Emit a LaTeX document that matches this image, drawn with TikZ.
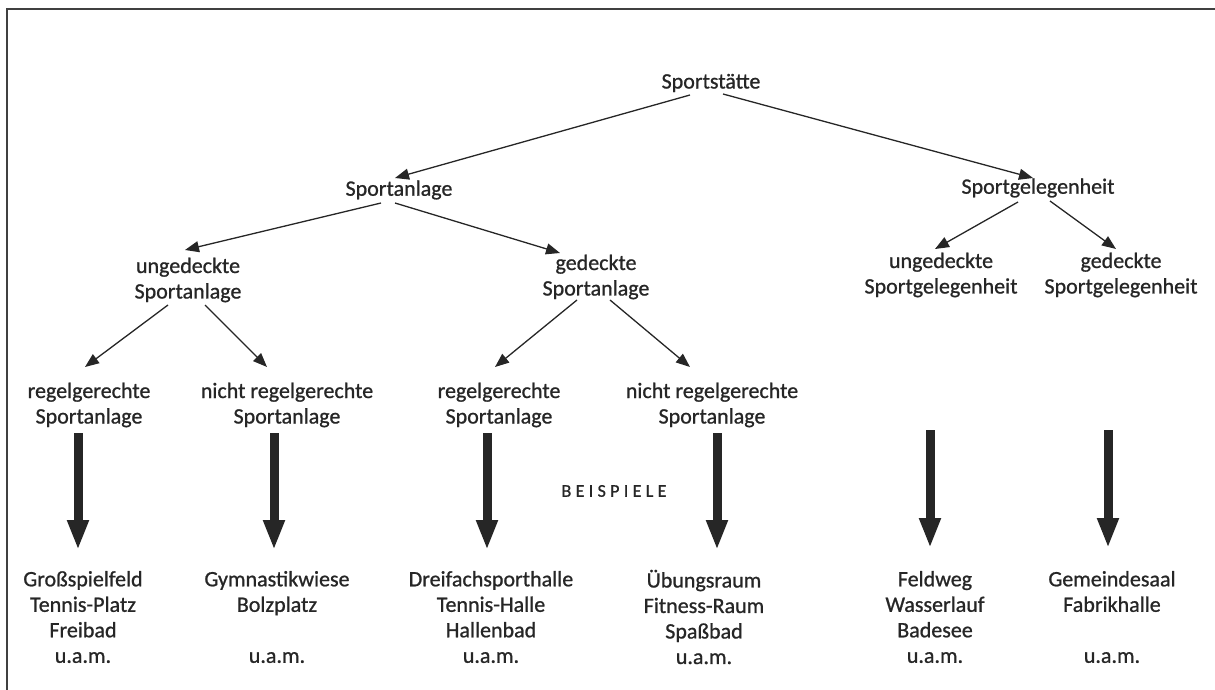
\documentclass[tikz,border=0pt]{standalone}
\usepackage{fontspec}
\setmainfont{Carlito}[FakeBold=0.9]
\newfontfamily\spacedfont[LetterSpace=24,FakeBold=0.9]{Carlito}
\usetikzlibrary{arrows.meta,calc}
\begin{document}
\begin{tikzpicture}[x=1pt,y=-1pt,
  lbl/.style={inner sep=0pt,align=center,text=black!85,
    font=\fontsize{22}{25.5}\selectfont},
  thin/.style={draw=black!85,line width=1.3pt,-{Triangle[length=14pt,width=11pt]}},
  thick/.style={draw=black!85,line width=9pt,-{Triangle[length=30pt,width=20pt]}},
  frame/.style={draw=black!75,line width=2pt}]
\useasboundingbox (0,0) rectangle (1215,690);
\coordinate (fc) at (6.5,9.5);
\coordinate (fr) at (1215,9.5);
\coordinate (fb) at (6.5,690);
\draw[frame] (fr) -- (fc) -- (fb);

\node[lbl] (st) at (711,83) {Sportstätte};
\node[lbl] (sa) at (399,190) {Sportanlage};
\node[lbl] (sg) at (1038,188) {Sportgelegenheit};
\node[lbl] (us) at (188,280) {ungedeckte\\Sportanlage};
\node[lbl] (gs) at (596,277) {gedeckte\\Sportanlage};
\node[lbl] (ug) at (941,275) {ungedeckte\\Sportgelegenheit};
\node[lbl] (gg) at (1121,275) {gedeckte\\Sportgelegenheit};
\node[lbl] (r1) at (89,405) {regelgerechte\\Sportanlage};
\node[lbl] (n1) at (287,405) {nicht regelgerechte\\Sportanlage};
\node[lbl] (r2) at (499,405) {regelgerechte\\Sportanlage};
\node[lbl] (n2) at (712,405) {nicht regelgerechte\\Sportanlage};
\node[lbl,font=\spacedfont\fontsize{18}{20}\selectfont] (bs) at (614,491) {BEISPIELE};
\node[lbl] (e1) at (83,617) {Großspielfeld\\Tennis-Platz\\Freibad\\u.a.m.};
\node[lbl] (e2) at (277,617) {Gymnastikwiese\\Bolzplatz\\\mbox{}\\u.a.m.};
\node[lbl] (e3) at (491,617) {Dreifachsporthalle\\Tennis-Halle\\Hallenbad\\u.a.m.};
\node[lbl] (e4) at (704,617) {Übungsraum\\Fitness-Raum\\Spaßbad\\u.a.m.};
\node[lbl] (e5) at (935,617) {Feldweg\\Wasserlauf\\Badesee\\u.a.m.};
\node[lbl] (e6) at (1112,617) {Gemeindesaal\\Fabrikhalle\\\mbox{}\\u.a.m.};

\draw[thin] ($(st)+(-21,12)$) -- ($(sa)+(-4,-12)$);
\draw[thin] ($(st)+(12,11)$) -- ($(sg)+(-5,-10)$);
\draw[thin] ($(sa)+(-18,13)$) -- ($(us)+(-3,-30)$);
\draw[thin] ($(sa)+(-4,13)$) -- ($(gs)+(-36,-24)$);
\draw[thin] ($(sg)+(-20,14)$) -- ($(ug)+(-6,-26)$);
\draw[thin] ($(sg)+(12,13)$) -- ($(gg)+(-5,-26)$);
\draw[thin] ($(us)+(-20,25)$) -- ($(r1)+(-4,-38)$);
\draw[thin] ($(us)+(17,25)$) -- ($(n1)+(-20,-38)$);
\draw[thin] ($(gs)+(-19,23)$) -- ($(r2)+(-4,-38)$);
\draw[thin] ($(gs)+(14,23)$) -- ($(n2)+(-22,-38)$);

\draw[thick] ($(r1)+(-11,28)$) -- ($(e1)+(-5,-67)$);
\draw[thick] ($(n1)+(-13,28)$) -- ($(e2)+(-3,-67)$);
\draw[thick] ($(r2)+(-12,28)$) -- ($(e3)+(-4,-67)$);
\draw[thick] ($(n2)+(5,28)$) -- ($(e4)+(13,-67)$);
\draw[thick] ($(ug)+(-11,155)$) -- ($(e5)+(-5,-69)$);
\draw[thick] ($(gg)+(-13,155)$) -- ($(e6)+(-4,-69)$);
\end{tikzpicture}
\end{document}
